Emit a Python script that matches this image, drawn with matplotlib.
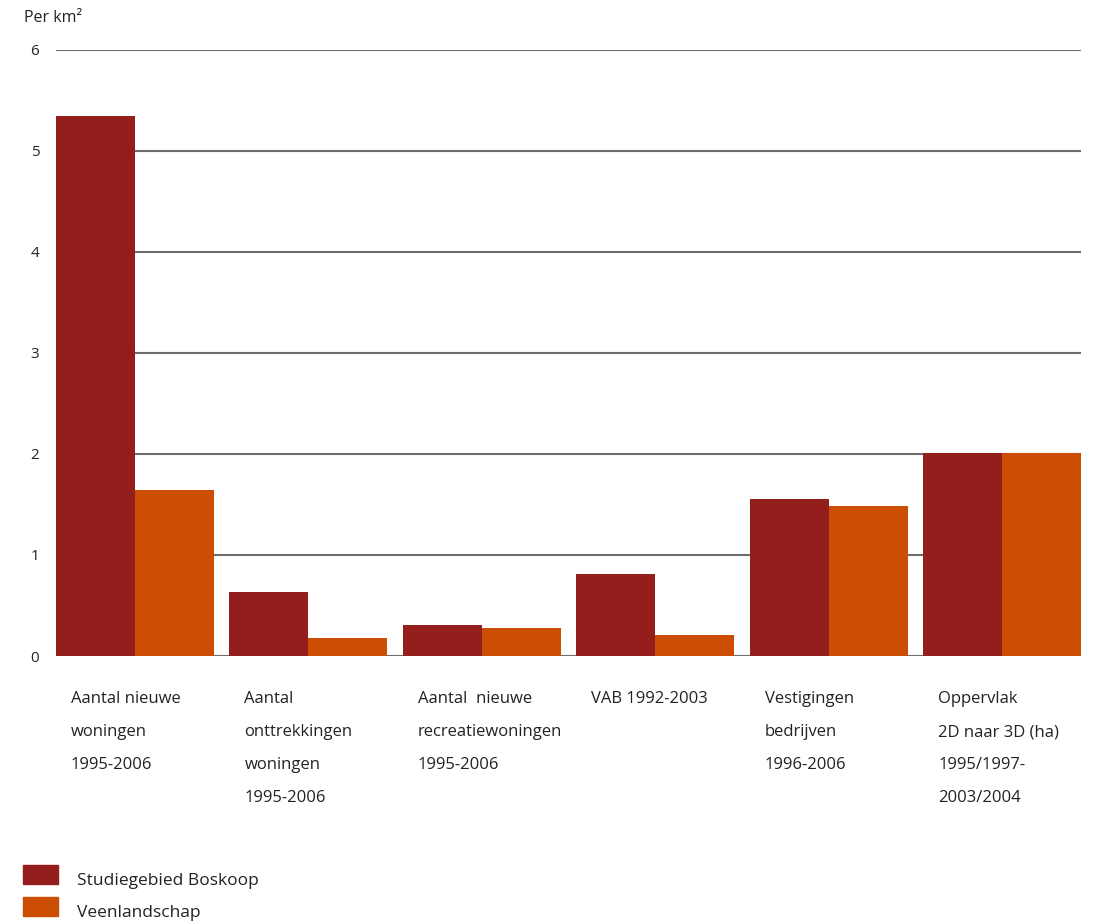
import numpy as np
import matplotlib.pyplot as plt
import matplotlib.transforms as mtransforms
from matplotlib.patches import Rectangle

plt.rcParams['font.family'] = ['Open Sans', 'DejaVu Sans']

categories = [
    'Aantal nieuwe\nwoningen\n1995-2006',
    'Aantal\nonttrekkingen\nwoningen\n1995-2006',
    'Aantal  nieuwe\nrecreatiewoningen\n1995-2006',
    'VAB 1992-2003',
    'Vestigingen\nbedrijven\n1996-2006',
    'Oppervlak\n2D naar 3D (ha)\n1995/1997-\n2003/2004',
]
boskoop = [5.35, 0.63, 0.31, 0.81, 1.55, 2.01]
veenlandschap = [1.64, 0.18, 0.28, 0.21, 1.49, 2.01]
series_names = ['Studiegebied Boskoop', 'Veenlandschap']
colors = ['#941e1c', '#cb4e04']
txt = '#222222'

fig = plt.figure(figsize=(10.93, 9.22), dpi=100)
ax = fig.add_axes([0.0512, 0.2885, 0.9378, 0.6573])

x = np.arange(len(categories))
w = 0.455
ax.bar(x - w / 2, boskoop, width=w, color=colors[0], zorder=3)
ax.bar(x + w / 2, veenlandschap, width=w, color=colors[1], zorder=3)

ax.set_xlim(-w, len(categories) - 1 + w)
ax.set_ylim(0, 6)
ax.set_yticks(range(7))
ax.set_xticks([])
for s in ax.spines.values():
    s.set_visible(False)
ax.tick_params(axis='y', length=0, pad=12, labelsize=11, labelcolor=txt)
ax.yaxis.grid(True, color='#6e6e6e', linewidth=1.5, zorder=1)
ax.set_axisbelow(True)

# category labels under each group
trans = mtransforms.blended_transform_factory(ax.transData, fig.transFigure)
for i, lab in enumerate(categories):
    ax.text(i - 0.369, 1 - 691 / 922, lab, transform=trans, ha='left', va='top',
            fontsize=12, color=txt, linespacing=2.42)

fig.text(24 / 1093, 1 - 18 / 922, 'Per km²', ha='left', va='center',
         fontsize=11.5, color=txt)

# legend
for k, (name, c) in enumerate(zip(series_names, colors)):
    y0 = 865 + k * 32
    fig.patches.append(Rectangle((23 / 1093, 1 - (y0 + 19) / 922), 35 / 1093, 19 / 922,
                                 transform=fig.transFigure, color=c))
    fig.text(77 / 1093, 1 - (y0 + 16) / 922, name, ha='left', va='center',
             fontsize=12.5, color=txt)

fig.savefig('out.png', dpi=100)
